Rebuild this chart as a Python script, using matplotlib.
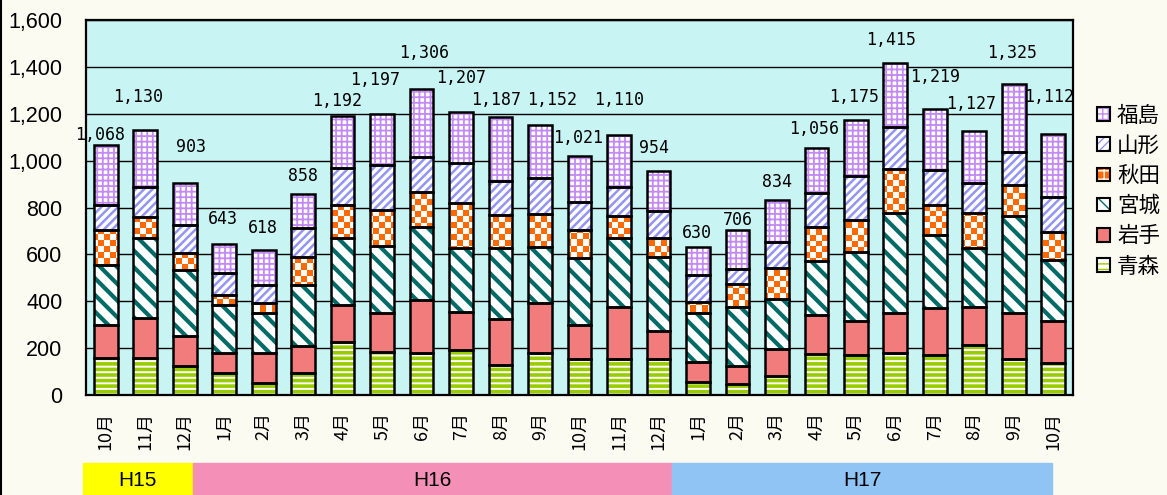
import numpy as np
import matplotlib
matplotlib.use("Agg")
import matplotlib.pyplot as plt
from matplotlib.colors import ListedColormap
from matplotlib.patches import Patch, Rectangle
from matplotlib.legend_handler import HandlerTuple

# Months (H15.10 - H17.10)
months = ["10月", "11月", "12月", "1月", "2月", "3月", "4月", "5月", "6月", "7月",
          "8月", "9月", "10月", "11月", "12月", "1月", "2月", "3月", "4月", "5月",
          "6月", "7月", "8月", "9月", "10月"]

# Values by prefecture (stack order bottom -> top)
aomori = [158, 158, 124, 95, 53, 95, 228, 185, 181, 192, 128, 178, 152, 152, 152,
          57, 47, 81, 174, 171, 178, 171, 213, 152, 135]
iwate = [141, 169, 128, 83, 125, 114, 156, 164, 224, 164, 195, 213, 147, 222, 122,
         85, 77, 114, 167, 146, 171, 199, 164, 197, 182]
miyagi = [256, 342, 281, 206, 173, 260, 285, 287, 313, 270, 303, 242, 284, 295, 316,
          209, 253, 213, 232, 295, 426, 313, 249, 415, 259]
akita = [149, 92, 71, 43, 40, 121, 142, 153, 149, 192, 142, 139, 121, 95, 79,
         47, 97, 132, 145, 135, 188, 128, 149, 132, 121]
yamagata = [107, 128, 121, 92, 78, 121, 156, 192, 150, 173, 146, 152, 121, 125, 118,
            114, 62, 114, 142, 187, 179, 149, 128, 142, 149]
fukushima = [257, 241, 178, 124, 149, 147, 225, 216, 289, 216, 273, 228, 196, 221, 167,
             118, 170, 180, 196, 241, 273, 259, 224, 287, 266]

eras = ["H15", "H16", "H17"]
era_colors = ["#ffff00", "#f490b8", "#90c4f4"]
era_edges = [-0.58, 2.21, 14.34, 23.98]  # band edges in bar-slot units

# label placement (pixels above bar top / sideways shift), as in the original sheet
label_lift = [10, 33, 36, 25, 22, 18, 15, 34, 36, 34, 17, 25, 18, 35, 23, 14, 10, 18,
              19, 23, 23, 32, 27, 31, 37]
label_shift = [-6, -7, 6, -1, -1, 0, -6, -7, 2, 0, -4, 12, -1, 0, -4, -1, 0, 0,
               -2, -2, -4, 0, -3, -2, -4]

series = [
    ("青森", aomori, dict(fc="white", hatch="---", hc="#99cc00", hlw=2.6)),
    ("岩手", iwate, dict(fc="#f27c7c", hatch=None, hc=None, hlw=1)),
    ("宮城", miyagi, dict(fc="white", hatch="\\\\", hc="#006a66", hlw=3.0)),
    ("秋田", akita, dict(fc="checker", hatch=None, hc=None, hlw=1)),
    ("山形", yamagata, dict(fc="white", hatch="////", hc="#9494f4", hlw=1.8)),
    ("福島", fukushima, dict(fc="white", hatch="+++", hc="#c48af4", hlw=1.3)),
]

bg_fig = "#fbfbf1"
bg_ax = "#c8f4f4"
orange = "#ff6a00"

fig = plt.figure(figsize=(11.67, 4.95), dpi=100, facecolor=bg_fig)
ax = fig.add_axes([86 / 1167, 1 - 395 / 495, 987 / 1167, 375 / 495])
ax.set_facecolor(bg_ax)

x = np.arange(len(months))
width = 0.6
bottom = np.zeros(len(months))

checker = (np.indices((63, 165)).sum(axis=0) % 2)
checker_cmap = ListedColormap(["white", orange])

for name, vals, st in series:
    vals = np.array(vals)
    if st["fc"] == "checker":
        bars = ax.bar(x, vals, width, bottom=bottom, color="none", lw=0, zorder=2)
        for p in bars:
            im = ax.imshow(checker, extent=(-0.5, 24.5, 0, 1600), aspect="auto",
                           interpolation="nearest", cmap=checker_cmap, zorder=2)
            im.set_clip_path(p)
    elif st["hatch"]:
        with plt.rc_context({"hatch.linewidth": st["hlw"]}):
            bars = ax.bar(x, vals, width, bottom=bottom, color=st["fc"],
                          edgecolor=st["hc"], hatch=st["hatch"], lw=0, zorder=2)
            for p in bars:
                if hasattr(p, "set_hatch_linewidth"):
                    p.set_hatch_linewidth(st["hlw"])
    else:
        ax.bar(x, vals, width, bottom=bottom, color=st["fc"], lw=0, zorder=2)
    ax.bar(x, vals, width, bottom=bottom, color="none", edgecolor="black",
           lw=1.8, zorder=3)
    bottom = bottom + vals

totals = bottom
for i, tot in enumerate(totals):
    ax.annotate(f"{int(tot):,}", (x[i], tot),
                xytext=(label_shift[i] * 0.72, label_lift[i] * 0.72),
                textcoords="offset points", ha="center", va="center",
                fontsize=12, family="DejaVu Sans Mono", zorder=4)

ax.set_xlim(-0.5, len(months) - 0.5)
ax.set_ylim(0, 1600)
ax.set_yticks(range(0, 1601, 200))
ax.set_yticklabels([f"{v:,}" for v in range(0, 1601, 200)],
                   fontsize=15.5, family="Liberation Sans")
ax.yaxis.grid(True, color="black", lw=1)
ax.set_axisbelow(True)
ax.set_xticks(x)
ax.set_xticklabels(months, rotation=90, fontsize=13, family="Noto Sans CJK JP")
ax.tick_params(axis="y", length=0, pad=17)
ax.tick_params(axis="x", length=0, pad=12)
for s in ax.spines.values():
    s.set_linewidth(1.6)

# era band below the month labels
bax = fig.add_axes([86 / 1167, 0, 987 / 1167, 32 / 495])
bax.set_xlim(-0.5, len(months) - 0.5)
bax.set_ylim(0, 1)
bax.axis("off")
for era, c, x0, x1 in zip(eras, era_colors, era_edges[:-1], era_edges[1:]):
    bax.add_patch(Rectangle((x0, 0), x1 - x0, 1, color=c, clip_on=False))
    bax.text((x0 + x1) / 2, 0.45, era, ha="center", va="center", fontsize=15,
             family="Liberation Sans")

# legend (top series first)
handles = []
labels = []
for name, vals, st in reversed(series):
    if st["fc"] == "checker":
        base = Patch(facecolor=orange, edgecolor="white", hatch="++", lw=0)
    elif st["hatch"]:
        base = Patch(facecolor=st["fc"], edgecolor=st["hc"], hatch=st["hatch"], lw=0)
    else:
        base = Patch(facecolor=st["fc"], lw=0)
    outline = Patch(facecolor="none", edgecolor="black", lw=1.5)
    handles.append((base, outline))
    labels.append(name)
fig.legend(handles, labels, handler_map={tuple: HandlerTuple(ndivide=1)},
           loc="upper left", bbox_to_anchor=(1088 / 1167, 1 - 96 / 495),
           frameon=False, prop={"family": "Noto Sans CJK JP", "size": 15.5},
           handlelength=0.6, handleheight=0.6, handletextpad=0.35,
           labelspacing=0.38, borderaxespad=0)

fig.add_artist(plt.Line2D([0.001, 0.001], [0, 1], color="black", lw=1.5,
                          transform=fig.transFigure))

fig.savefig("out.png", dpi=100, facecolor=bg_fig)
